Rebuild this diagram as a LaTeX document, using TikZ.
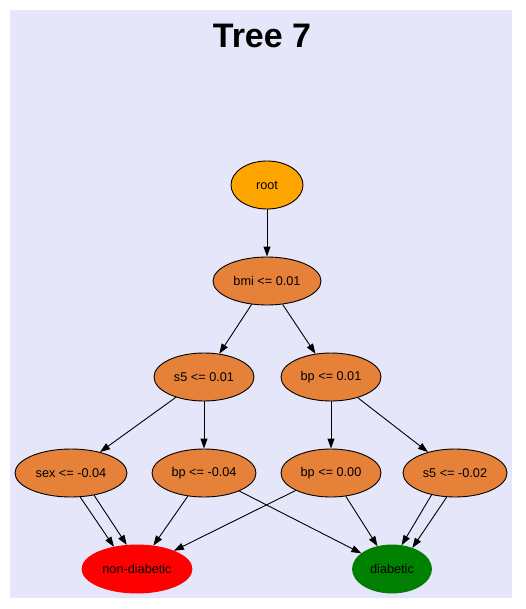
\documentclass[tikz,border=0pt]{standalone}
\usepackage{fontspec}
\setmainfont{Liberation Sans}
\usetikzlibrary{arrows.meta,shapes.geometric}
\definecolor{bgcol}{RGB}{230,230,250}
\definecolor{rootcol}{RGB}{255,165,0}
\definecolor{splitcol}{RGB}{229,129,57}
\definecolor{nocol}{RGB}{255,0,0}
\definecolor{yescol}{RGB}{0,128,0}
\tikzset{
  tnode/.style={ellipse, draw=black, line width=0.9pt, inner sep=0pt,
    minimum height=48pt, font=\fontsize{12.7}{14}\selectfont, text=black},
  splitnode/.style={tnode, fill=splitcol},
  arr/.style={-{Triangle[length=10pt,width=7pt]}, line width=0.9pt, black}
}
\begin{document}
\begin{tikzpicture}[x=1pt,y=-1pt]
\useasboundingbox (0,0) rectangle (526,609);
\fill[bgcol] (10,10) rectangle (512,598);
\node[font=\fontsize{34}{38}\bfseries] (title) at (262,36) {Tree 7};
\node[tnode, fill=rootcol, minimum width=72pt] (root) at (267,185) {root};
\node[splitnode, minimum width=108pt] (bmi) at (267,281) {bmi <= 0.01};
\node[splitnode, minimum width=100pt] (s5a) at (204,377) {s5 <= 0.01};
\node[splitnode, minimum width=100pt] (bpa) at (331,377) {bp <= 0.01};
\node[splitnode, minimum width=112pt] (sex) at (71,473) {sex <= -0.04};
\node[splitnode, minimum width=104pt] (bpb) at (204,473) {bp <= -0.04};
\node[splitnode, minimum width=100pt] (bpc) at (331,473) {bp <= 0.00};
\node[splitnode, minimum width=104pt] (s5b) at (455,473) {s5 <= -0.02};
\node[tnode, fill=nocol, draw=nocol, minimum width=110pt] (nd) at (137,569) {non-diabetic};
\node[tnode, fill=yescol, draw=yescol, minimum width=79pt] (dia) at (392,569) {diabetic};
\draw[arr] (root) -- (bmi);
\draw[arr] (bmi) -- (s5a);
\draw[arr] (bmi) -- (bpa);
\draw[arr] (s5a) -- (sex);
\draw[arr] (s5a) -- (bpb);
\draw[arr] (bpa) -- (bpc);
\draw[arr] (bpa) -- (s5b);
\draw[arr] (sex.-69) -- (nd.136);
\draw[arr] (sex.-44) -- (nd.113);
\draw[arr] (bpb) -- (nd);
\draw[arr] (bpb) -- (dia);
\draw[arr] (bpc) -- (nd);
\draw[arr] (bpc) -- (dia);
\draw[arr] (s5b.-137) -- (dia.68);
\draw[arr] (s5b.-109) -- (dia.46);
\end{tikzpicture}
\end{document}
